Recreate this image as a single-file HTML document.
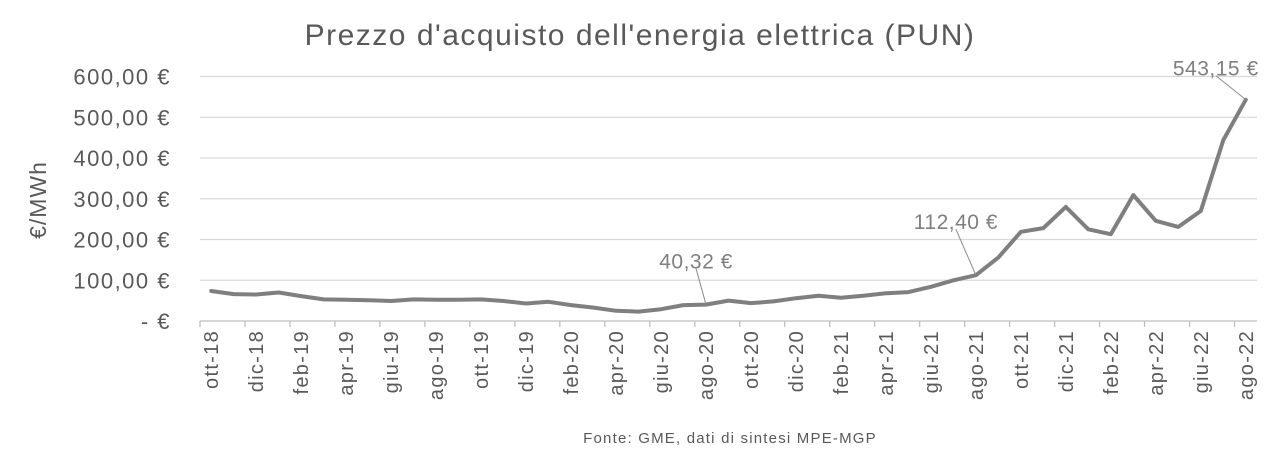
<!DOCTYPE html>
<html><head><meta charset="utf-8"><style>
body{margin:0;background:#fff;}
svg{display:block;font-family:"Liberation Sans",sans-serif;}
</style></head><body>
<svg id="chart" width="1280" height="469">
<text x="640" y="45" text-anchor="middle" font-size="30" letter-spacing="1.5" fill="#595959">Prezzo d'acquisto dell'energia elettrica (PUN)</text>
<text transform="translate(46,200) rotate(-90)" text-anchor="middle" font-size="23" letter-spacing="1" fill="#595959">€/MWh</text>
<text x="730" y="443" text-anchor="middle" font-size="15" letter-spacing="1.2" fill="#595959">Fonte: GME, dati di sintesi MPE-MGP</text>
<g id="grid"></g><g id="yt"></g><g id="xt"></g><g id="series"></g><g id="ann"></g>
</svg>
<script>
const categories=["ott-18","nov-18","dic-18","gen-19","feb-19","mar-19","apr-19","mag-19","giu-19","lug-19","ago-19","set-19","ott-19","nov-19","dic-19","gen-20","feb-20","mar-20","apr-20","mag-20","giu-20","lug-20","ago-20","set-20","ott-20","nov-20","dic-20","gen-21","feb-21","mar-21","apr-21","mag-21","giu-21","lug-21","ago-21","set-21","ott-21","nov-21","dic-21","gen-22","feb-22","mar-22","apr-22","mag-22","giu-22","lug-22","ago-22"];
const values=[73.5,66,65,70,61,53,52,51,49,53,52,52,53,49,43,47,39,33,25,23,29,39,40.32,50,44,48,56,62,57,62,68,71,84,100,112.40,156,219,228,280,225,213,309,246,231,270,444,543.15];
const yTicks=[0,100,200,300,400,500,600];
const yTickLabels=["-     €","100,00 €","200,00 €","300,00 €","400,00 €","500,00 €","600,00 €"];
const annotations=[{i:22,text:"40,32 €",dx:-10,dy:-36},{i:34,text:"112,40 €",dx:-20,dy:-46},{i:46,text:"543,15 €",dx:-30,dy:-24}];
const NS="http://www.w3.org/2000/svg";
const x0=200,x1=1257,yBase=321,pxPer=0.4075;
const step=(x1-x0)/categories.length;
function xs(i){return x0+step*(i+0.5);}
function ys(v){return yBase-v*pxPer;}
function mk(t,a,p){const e=document.createElementNS(NS,t);for(const k in a)e.setAttribute(k,a[k]);p.appendChild(e);return e;}
const grid=document.getElementById('grid'),yt=document.getElementById('yt'),xt=document.getElementById('xt');
yTicks.forEach((v,k)=>{
 const l=mk('line',{x1:x0,x2:x1,y1:ys(v),y2:ys(v),stroke:v===0?'#bfbfbf':'#d9d9d9','stroke-width':1.3},grid);
 
 
 const t=mk('text',{x:171,y:ys(v)+8,'text-anchor':'end','font-size':22,'letter-spacing':1.5,fill:'#595959','xml:space':'preserve'},yt);
 t.textContent=yTickLabels[k];
 
 
});
for(let i=0;i<=categories.length;i+=2){
 const tx=x0+step*i;
 const l=mk('line',{x1:tx,x2:tx,y1:yBase,y2:yBase+6,stroke:'#bfbfbf','stroke-width':1.3},xt);
 
 
}
categories.forEach((c,i)=>{
 if(i%2)return;
 const t=mk('text',{transform:`translate(${xs(i)+7},330) rotate(-90)`,'text-anchor':'end','font-size':20,'letter-spacing':1.3,fill:'#595959'},xt);
 t.textContent=c;
 
 
});
const pts=values.map((v,i)=>xs(i).toFixed(1)+','+ys(v).toFixed(1)).join(' ');
const pl=mk('polyline',{points:pts,fill:'none',stroke:'#7f7f7f','stroke-width':4,'stroke-linejoin':'round','stroke-linecap':'round'},document.getElementById('series'));


const ann=document.getElementById('ann');
annotations.forEach(a=>{
 const px=xs(a.i),py=ys(values[a.i]);
 const l=mk('line',{x1:px,y1:py,x2:px+a.dx,y2:py+a.dy,stroke:'#8c8c8c','stroke-width':1},ann);
 
 
 const t=mk('text',{x:px+a.dx,y:py+a.dy,'text-anchor':'middle','font-size':21,'letter-spacing':0.5,fill:'#7f7f7f'},ann);
 t.textContent=a.text;
 
 
});
</script>
</body></html>
